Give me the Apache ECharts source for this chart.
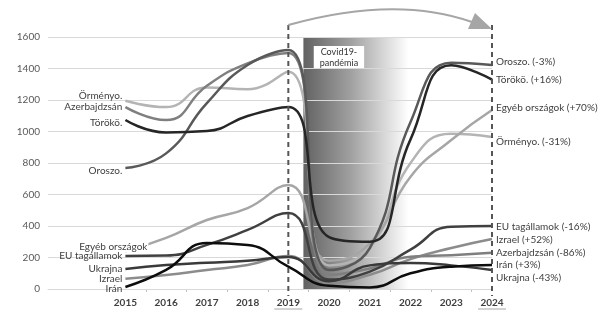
<!DOCTYPE html>
<html>
<head>
<meta charset="utf-8">
<script src="https://cdn.jsdelivr.net/npm/echarts@6/dist/echarts.min.js"></script>
<style>
  html, body { margin: 0; padding: 0; background: #fff; }
  #chart { width: 600px; height: 311px; }
</style>
</head>
<body>
<div id="chart"></div>
<script>
// évek
var years = [2015, 2016, 2017, 2018, 2019, 2020, 2021, 2022, 2023, 2024];

var oroszo   = [768, 861, 1180, 1422, 1517, 120, 260, 1060, 1437, 1422];
var toroko   = [1073, 994, 1003, 1098, 1155, 330, 300, 950, 1420, 1330];
var azerb    = [1155, 1073, 1290, 1433, 1498, 90, 130, 205, 215, 230];
var ormeny   = [1195, 1155, 1280, 1268, 1380, 150, 260, 800, 985, 965];
var egyeb    = [240, 325, 438, 514, 660, 180, 290, 713, 946, 1136];
var eu       = [210, 212, 280, 375, 482, 60, 110, 250, 396, 400];
var izrael   = [65, 89, 121, 152, 209, 40, 90, 190, 260, 317];
var ukrajna  = [127, 152, 167, 180, 203, 50, 150, 165, 150, 120];
var iran     = [13, 121, 292, 279, 142, 20, 10, 100, 142, 152];

var textColor = '#404040';
var font = 'Lato';

function makeSeries(name, values, color, leftText, leftDy, rightText, rightDy, leftExtra) {
  var data = values.map(function (v, i) {
    var item = { value: [years[i], v] };
    if (i === 0) {
      item.label = Object.assign({
        show: true, position: 'left', distance: 3,
        formatter: leftText, offset: [0, leftDy]
      }, leftExtra || {});
    }
    if (i === values.length - 1) {
      item.label = {
        show: true, position: 'right', distance: 4,
        formatter: rightText, offset: [0, rightDy]
      };
    }
    return item;
  });
  return {
    name: name,
    type: 'line',
    smooth: 0.5,
    symbol: 'circle',
    symbolSize: 0,
    showSymbol: true,
    data: data,
    lineStyle: { color: color, width: 2.5 },
    itemStyle: { color: color },
    label: { color: textColor, fontFamily: font, fontSize: 10 },
    emphasis: { disabled: true }
  };
}

var chart = echarts.init(document.getElementById('chart'));

var series = [
  makeSeries('Örményo.', ormeny, '#b4b4b4', 'Örményo.', -5, 'Örményo. (-31%)', 5),
  makeSeries('Egyéb országok', egyeb, '#a6a6a6', 'Egyéb országok', -4, 'Egyéb országok (+70%)', -2,
    { offset: [26, -4], backgroundColor: '#fff', padding: [0, 1] }),
  makeSeries('Izrael', izrael, '#8c8c8c', 'Izrael', 0, 'Izrael (+52%)', 1),
  makeSeries('Azerbajdzsán', azerb, '#7f7f7f', 'Azerbajdzsán', 0, 'Azerbajdzsán (-86%)', 0),
  makeSeries('Oroszo.', oroszo, '#595959', 'Oroszo.', 3, 'Oroszo. (-3%)', -3),
  makeSeries('EU tagállamok', eu, '#404040', 'EU tagállamok', 0, 'EU tagállamok (-16%)', 1),
  makeSeries('Ukrajna', ukrajna, '#3a3a3a', 'Ukrajna', 0, 'Ukrajna (-43%)', 8),
  makeSeries('Törökö.', toroko, '#262626', 'Törökö.', 3, 'Törökö. (+16%)', 0),
  makeSeries('Irán', iran, '#0d0d0d', 'Irán', 2, 'Irán (+3%)', 0)
];

// covid sáv
series.push({
  type: 'line',
  data: [],
  silent: true,
  markArea: {
    silent: true,
    itemStyle: {
      color: new echarts.graphic.LinearGradient(0, 0, 1, 0, [
        { offset: 0, color: '#626262' },
        { offset: 0.45, color: '#a0a0a0' },
        { offset: 1, color: '#ffffff' }
      ])
    },
    label: {
      show: true,
      position: 'insideTop',
      offset: [-17, 4],
      formatter: 'Covid19-\npandémia',
      backgroundColor: '#fff',
      color: '#333',
      fontFamily: font,
      fontSize: 9,
      lineHeight: 11,
      padding: [1, 6, 0, 6]
    },
    data: [[{ xAxis: 2019.37, yAxis: 0 }, { xAxis: 2021.95, yAxis: 1620 }]]
  }
});

chart.setOption({
  animation: false,
  textStyle: { fontFamily: font },
  grid: { left: 48, right: 108, top: 37, bottom: 22 },
  xAxis: {
    type: 'value',
    min: 2013.1,
    max: 2024,
    splitLine: { show: false },
    axisLine: { show: true, lineStyle: { color: '#d9d9d9' } },
    axisTick: {
      show: true, length: 3, inside: false,
      customValues: [2015.5, 2016.5, 2017.5, 2018.5, 2019.5, 2020.5, 2021.5, 2022.5, 2023.5],
      lineStyle: { color: '#bfbfbf' }
    },
    axisLabel: {
      customValues: years,
      color: textColor,
      fontWeight: 'bold',
      fontSize: 10,
      margin: 9,
      formatter: function (v) { return String(v); }
    }
  },
  yAxis: {
    type: 'value',
    min: 0,
    max: 1600,
    interval: 200,
    z: 1.5,
    axisLine: { show: false },
    axisTick: { show: false },
    splitLine: { lineStyle: { color: '#d9d9d9', width: 1 } },
    axisLabel: {
      color: '#595959', fontSize: 10, margin: 8,
      formatter: function (v) { return String(v); }
    }
  },
  series: series
});

// szaggatott vonalak, nyíl, aláhúzás
var x19 = chart.convertToPixel({ xAxisIndex: 0 }, 2019);
var x24 = chart.convertToPixel({ xAxisIndex: 0 }, 2024);
var topY = 25;
var gfx = [];
[x19, x24].forEach(function (x) {
  gfx.push({
    type: 'line', z: 10, silent: true,
    shape: { x1: x, y1: topY, x2: x, y2: 296 },
    style: { stroke: '#555', lineWidth: 2, lineDash: [5, 4] }
  });
  gfx.push({
    type: 'line', silent: true,
    shape: { x1: x - 14, y1: 309, x2: x + 14, y2: 309 },
    style: { stroke: '#a6a6a6', lineWidth: 1 }
  });
});
gfx.push({
  type: 'bezierCurve', z: 10, silent: true,
  shape: { x1: x19, y1: topY, cpx1: (x19 + x24) / 2 + 5, cpy1: -5, x2: x24 - 20, y2: 22 },
  style: { stroke: '#a6a6a6', lineWidth: 2, fill: null }
});
gfx.push({
  type: 'polygon', z: 10, silent: true,
  shape: { points: [[x24, 29], [x24 - 24, 29], [x24 - 17, 13]] },
  style: { fill: '#a6a6a6' }
});
chart.setOption({ graphic: gfx });
</script>
</body>
</html>
